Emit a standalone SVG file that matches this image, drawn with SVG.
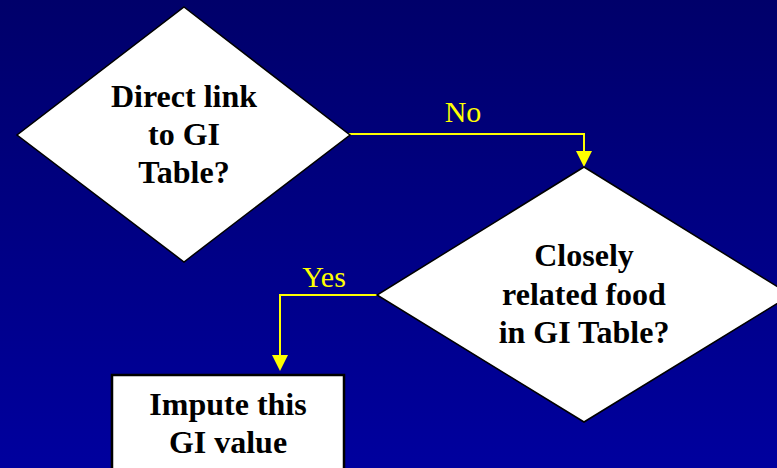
<svg xmlns="http://www.w3.org/2000/svg" width="777" height="468" viewBox="0 0 777 468">
<defs>
<linearGradient id="bg" x1="0" y1="0" x2="0" y2="1">
<stop offset="0" stop-color="#00006a"/>
<stop offset="1" stop-color="#00009e"/>
</linearGradient>
<style>
.shape{fill:#ffffff;stroke:#000000;stroke-width:1.5}
.box{fill:#ffffff;stroke:#000000;stroke-width:2.5}
.t{font-family:"Liberation Serif","Times New Roman",serif;font-weight:bold;font-size:32px;fill:#000000;text-anchor:middle}
.lbl{font-family:"Liberation Serif","Times New Roman",serif;font-size:30px;fill:#ffff00;text-anchor:middle}
.conn{fill:none;stroke:#ffff00;stroke-width:2}
.head{fill:#ffff00}
</style>
</defs>
<rect x="0" y="0" width="777" height="468" fill="url(#bg)"/>
<g id="connectors">
<path class="conn" d="M348,134 H584 V151"/>
<path class="head" d="M576,151 L592,151 L584,167 Z"/>
<path class="conn" d="M377,295 H280 V355"/>
<path class="head" d="M272,355 L288,355 L280,371 Z"/>
<text class="lbl" x="463" y="122">No</text>
<text class="lbl" x="324" y="287">Yes</text>
</g>
<g id="node-direct">
<polygon class="shape" points="184,7 350,135 184,262 17,135"/>
<text class="t" x="184" y="107">Direct link</text>
<text class="t" x="184" y="145">to GI</text>
<text class="t" x="184" y="183">Table?</text>
</g>
<g id="node-closely">
<polygon class="shape" points="584,167 791,295 584,422 377,295"/>
<text class="t" x="584" y="266">Closely</text>
<text class="t" x="584" y="305">related food</text>
<text class="t" x="584" y="343">in GI Table?</text>
</g>
<g id="node-impute">
<rect class="box" x="112" y="375" width="232" height="110"/>
<text class="t" x="228" y="415">Impute this</text>
<text class="t" x="228" y="453">GI value</text>
</g>
</svg>
